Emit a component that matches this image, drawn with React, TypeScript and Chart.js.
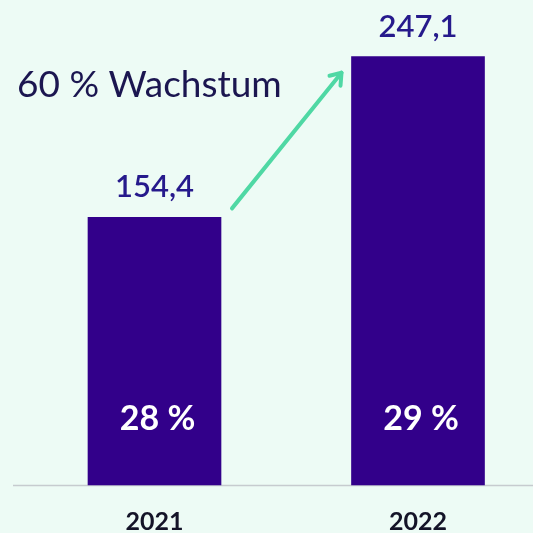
import React, { useEffect, useRef } from "react";
import { Chart, registerables } from "chart.js";

Chart.register(...registerables);

const years = ["2021", "2022"];
const revenue = [154.4, 247.1];
const shareLabels = ["28 %", "29 %"];
const growthLabel = "60 % Wachstum";

const BG = "#edfbf5";
const BAR = "#32008a";
const FONT = "Lato, 'Open Sans', sans-serif";

const overlay = {
  id: "overlay",
  beforeDatasetsDraw(chart: any) {
    const { ctx, chartArea } = chart;
    ctx.save();
    ctx.strokeStyle = "#c6cbcf";
    ctx.lineWidth = 1.5;
    ctx.beginPath();
    ctx.moveTo(13, chartArea.bottom + 0.5);
    ctx.lineTo(chart.width, chartArea.bottom + 0.5);
    ctx.stroke();
    ctx.restore();
  },
  afterDatasetsDraw(chart: any) {
    const { ctx, chartArea } = chart;
    const meta = chart.getDatasetMeta(0);
    const els = meta.data as any[];
    ctx.save();
    els.forEach((el: any, i: number) => {
      const v = revenue[i].toLocaleString("de-DE", { minimumFractionDigits: 1 });
      ctx.fillStyle = "#261a8c";
      ctx.font = `600 31px ${FONT}`;
      ctx.textAlign = "center";
      ctx.textBaseline = "alphabetic";
      ctx.fillText(v, el.x, el.y - 20);
      ctx.fillStyle = "#ffffff";
      ctx.font = `bold 34px ${FONT}`;
      ctx.fillText(shareLabels[i], el.x + 3, chartArea.bottom - 55);
    });
    // growth annotation
    ctx.fillStyle = "#1b1650";
    ctx.font = `400 37px ${FONT}`;
    ctx.textAlign = "left";
    ctx.fillText(growthLabel, 17, 97);
    // arrow
    const a = els[0];
    const b = els[1];
    const x1 = a.x + a.width / 2 + 11;
    const y1 = a.y - 9;
    const x2 = b.x - b.width / 2 - 10;
    const y2 = b.y + 16;
    ctx.strokeStyle = "#4fd8a4";
    ctx.lineWidth = 4;
    ctx.lineCap = "round";
    ctx.lineJoin = "round";
    ctx.beginPath();
    ctx.moveTo(x1, y1);
    ctx.lineTo(x2, y2);
    ctx.stroke();
    ctx.beginPath();
    ctx.moveTo(x2 - 12, y2 + 3);
    ctx.lineTo(x2, y2);
    ctx.lineTo(x2 - 1, y2 + 13);
    ctx.stroke();
    ctx.restore();
  },
};

export default function App() {
  const ref = useRef<HTMLCanvasElement>(null);
  useEffect(() => {
    if (!ref.current) return;
    const chart = new Chart(ref.current, {
      type: "bar",
      data: {
        labels: years,
        datasets: [
          {
            data: revenue,
            backgroundColor: BAR,
            borderWidth: 0,
            barThickness: 133,
            clip: false as any,
          },
        ],
      },
      options: {
        animation: false,
        responsive: false,
        layout: { padding: { top: 17, left: 154.5, right: 115, bottom: 0 } },
        plugins: { legend: { display: false }, tooltip: { enabled: false } },
        scales: {
          x: {
            offset: false,
            grid: { display: false, drawTicks: false },
            border: { display: false },
            ticks: {
              color: "#141428",
              font: { family: FONT, size: 25, weight: "bold" },
              padding: 22,
              maxRotation: 0,
            },
            afterFit: (scale: any) => {
              scale.height = 48;
            },
          },
          y: {
            display: false,
            min: 0,
            max: 270,
          },
        },
      },
      plugins: [overlay],
    });
    return () => chart.destroy();
  }, []);
  return (
    <div
      style={{
        position: "fixed",
        left: 0,
        top: 0,
        width: 533,
        height: 533,
        background: BG,
        overflow: "hidden",
      }}
    >
      <canvas ref={ref} width={533} height={533} style={{ display: "block" }} />
    </div>
  );
}
